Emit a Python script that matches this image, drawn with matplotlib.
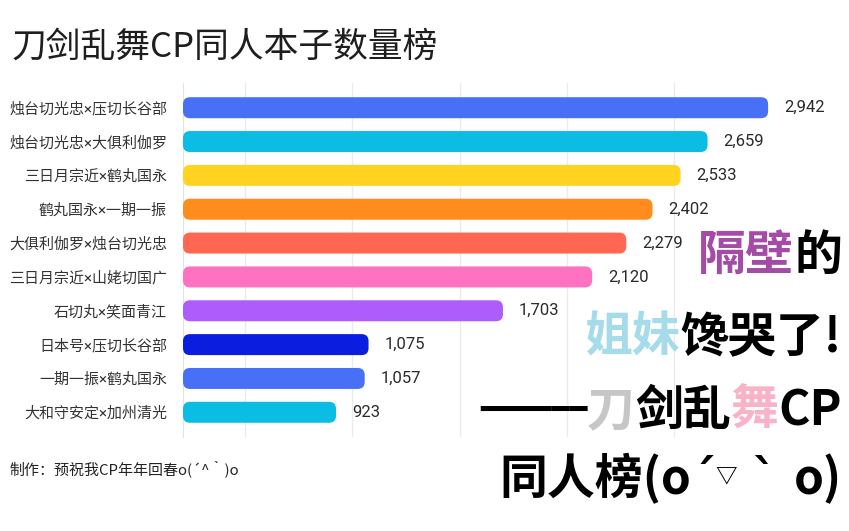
import matplotlib
matplotlib.use('Agg')
import matplotlib.pyplot as plt
from matplotlib.patches import FancyBboxPatch

plt.rcParams['font.family'] = ['Noto Sans CJK SC', 'DejaVu Sans']

# ---------------- data ----------------
categories = ['烛台切光忠×压切长谷部', '烛台切光忠×大俱利伽罗', '三日月宗近×鹤丸国永',
              '鹤丸国永×一期一振', '大俱利伽罗×烛台切光忠', '三日月宗近×山姥切国广',
              '石切丸×笑面青江', '日本号×压切长谷部', '一期一振×鹤丸国永', '大和守安定×加州清光']
values = [2942, 2659, 2533, 2402, 2279, 2120, 1703, 1075, 1057, 923]
bar_colors = ['#4870f6', '#0bbde2', '#ffd31f', '#ff8c1c', '#ff6752',
              '#ff72c2', '#ae5cfb', '#0b1ee0', '#4870f6', '#0bbde2']
grid_ticks = [500, 1000, 1500, 2000, 2500]
title = '刀剑乱舞CP同人本子数量榜'
footer = '制作：预祝我CP年年回春o(´^｀)o'

CJK = ['Noto Sans CJK SC', 'DejaVu Sans']
LAT = ['DejaVu Sans', 'Noto Sans CJK SC']
# (text, colour, size scale, baseline raise in px, font family list)
overlay_lines = [
    [('隔壁', '#a44ba6', 1.0, 0, CJK), ('的', '#000000', 1.0, 0, CJK)],
    [('姐妹', '#a6dbe9', 1.0, 0, CJK), ('馋哭了!', '#000000', 1.0, 0, CJK)],
    [('━━━━━━', '#000000', 0.62, 6, LAT), ('刀', '#c6c6c6', 1.0, 0, CJK), ('剑乱', '#000000', 1.0, 0, CJK),
     ('舞', '#f8b3c8', 1.0, 0, CJK), ('CP', '#000000', 1.0, 0, CJK)],
    [('同人榜(o', '#000000', 1.0, 0, CJK), ('´', '#000000', 1.0, 0, LAT),
     ('▽', '#000000', 0.45, 12, CJK), (' ` ', '#000000', 1.0, 0, LAT),
     ('o)', '#000000', 1.0, 0, CJK)],
]

# ---------------- figure ----------------
W, H = 849, 531
fig = plt.figure(figsize=(W / 100, H / 100), dpi=100)
fig.patch.set_facecolor('white')

ax_l, ax_r, ax_t, ax_b = 183, 800, 83, 437
ax = fig.add_axes([ax_l / W, 1 - ax_b / H, (ax_r - ax_l) / W, (ax_b - ax_t) / H])
xmin, xmax = 208, 3091
ymin, ymax = -0.73, 9.73
ax.set_xlim(xmin, xmax)
ax.set_ylim(ymax, ymin)

px_per_x = (ax_r - ax_l) / (xmax - xmin)
px_per_y = (ax_b - ax_t) / (ymax - ymin)

bar_h = 0.62
r_px = 7
r_x = r_px / px_per_x
aspect = px_per_x / px_per_y

for i, (v, c) in enumerate(zip(values, bar_colors)):
    p = FancyBboxPatch((xmin, i - bar_h / 2), v - xmin, bar_h,
                       boxstyle=f'round,pad=0,rounding_size={r_x}',
                       mutation_aspect=aspect, facecolor=c, edgecolor='none', zorder=3)
    ax.add_patch(p)
    ax.annotate(f'{v:,}', xy=(v, i), xytext=(16, 0), textcoords='offset pixels',
                ha='left', va='center', fontsize=12, color='#2a2a2a',
                family=['Roboto', 'DejaVu Sans'], annotation_clip=False)

ax.set_xticks(grid_ticks)
ax.set_xticklabels([])
ax.tick_params(axis='x', length=0)
ax.grid(axis='x', color='#ebebeb', linewidth=1, zorder=0)
ax.set_yticks(range(len(categories)))
ax.set_yticklabels(categories, fontsize=10.8, color='#333333',
                   family=['Roboto', 'Noto Sans CJK SC'])
ax.tick_params(axis='y', length=0, pad=11.5)
for s in ['top', 'right', 'bottom']:
    ax.spines[s].set_visible(False)
ax.spines['left'].set_color('#e3e3e3')
ax.set_axisbelow(True)

fig.text(12 / W, 1 - 47 / H, title, fontsize=25, va='center', ha='left', color='#1e1e1e')
fig.text(9 / W, 1 - 469 / H, footer, fontsize=10.8, va='center', ha='left', color='#222222')

# ---------------- overlay big text ----------------
renderer = fig.canvas.get_renderer()
baselines = [270, 352, 425, 494]
right_px = 842
big = 34.5
for pieces, yb in zip(overlay_lines, baselines):
    x = right_px
    for txt, col, sc, raise_px, fam in reversed(pieces):
        t = fig.text(x / W, 1 - (yb - raise_px) / H, txt, color=col, fontsize=big * sc,
                     fontweight='black', ha='right', va='baseline',
                     family=fam, zorder=10)
        bb = t.get_window_extent(renderer)
        x = bb.x0

fig.savefig('out.png', dpi=100, facecolor='white')
